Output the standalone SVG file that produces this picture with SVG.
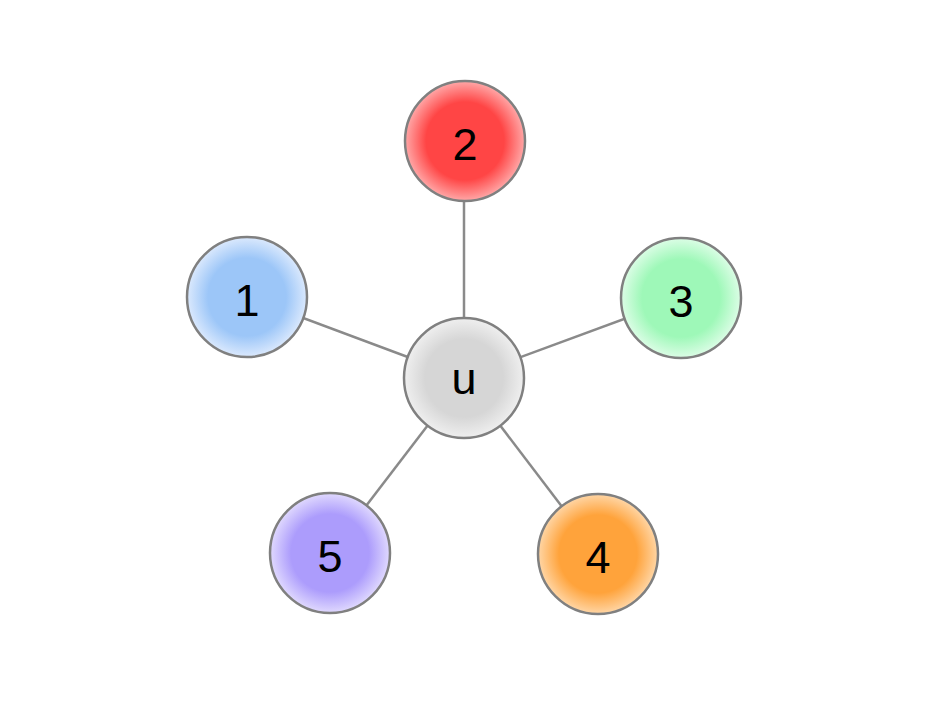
<svg xmlns="http://www.w3.org/2000/svg" width="952" height="716" viewBox="0 0 952 716">
<style>
.edge{stroke:#8a8a8a;stroke-width:2.5;fill:none}
.node circle{stroke:#808080;stroke-width:2.5}
.node text{font-family:"Liberation Sans",Arial,sans-serif;font-size:45px;fill:#000;text-anchor:middle;dominant-baseline:central}
</style>
<defs>
<radialGradient id="gRed"><stop offset="0.65" stop-color="#ff4545"/><stop offset="1" stop-color="#ffa8a8"/></radialGradient>
<radialGradient id="gBlue"><stop offset="0.65" stop-color="#9cc6f8"/><stop offset="1" stop-color="#dbe9fd"/></radialGradient>
<radialGradient id="gGreen"><stop offset="0.65" stop-color="#9ef8b8"/><stop offset="1" stop-color="#dcfde6"/></radialGradient>
<radialGradient id="gGray"><stop offset="0.65" stop-color="#d6d6d6"/><stop offset="1" stop-color="#efefef"/></radialGradient>
<radialGradient id="gPurple"><stop offset="0.65" stop-color="#ac9cfc"/><stop offset="1" stop-color="#e0d9fe"/></radialGradient>
<radialGradient id="gOrange"><stop offset="0.65" stop-color="#ffa33b"/><stop offset="1" stop-color="#ffd6a6"/></radialGradient>
</defs>
<rect width="952" height="716" fill="#fff"/>
<g id="edges">
<line class="edge" x1="464" y1="378" x2="464" y2="141"/>
<line class="edge" x1="464" y1="378" x2="247" y2="297"/>
<line class="edge" x1="464" y1="378" x2="681" y2="298"/>
<line class="edge" x1="464" y1="378" x2="330" y2="553"/>
<line class="edge" x1="464" y1="378" x2="598" y2="554"/>
</g>
<g id="node-2" class="node"><circle cx="465" cy="141" r="60" fill="url(#gRed)"/><text x="465" y="144">2</text></g>
<g id="node-1" class="node"><circle cx="247" cy="297" r="60" fill="url(#gBlue)"/><text x="247" y="300">1</text></g>
<g id="node-3" class="node"><circle cx="681" cy="298" r="60" fill="url(#gGreen)"/><text x="681" y="301">3</text></g>
<g id="node-u" class="node"><circle cx="464" cy="378" r="60" fill="url(#gGray)"/><text x="464" y="378">u</text></g>
<g id="node-5" class="node"><circle cx="330" cy="553" r="60" fill="url(#gPurple)"/><text x="330" y="556">5</text></g>
<g id="node-4" class="node"><circle cx="598" cy="554" r="60" fill="url(#gOrange)"/><text x="598" y="557">4</text></g>
</svg>
